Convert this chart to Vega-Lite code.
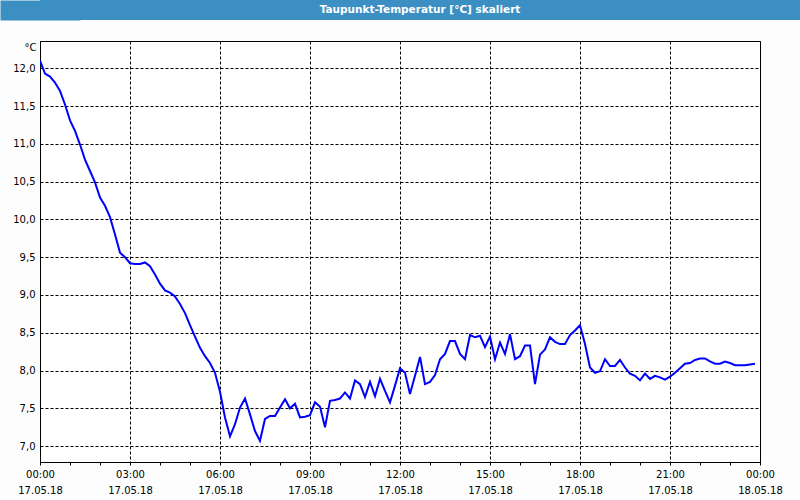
{
  "$schema": "https://vega.github.io/schema/vega-lite/v6.json",
  "padding": 0,
  "background": "#fcfdfc",
  "columns": 1,
  "align": "none",
  "bounds": "full",
  "spacing": 20,
  "config": {
    "font": "DejaVu Sans",
    "axis": {"labelFont": "DejaVu Sans", "labelFontSize": 10, "labelColor": "#000000", "titleFont": "DejaVu Sans", "titleColor": "#000000"}
  },
  "concat": [
    {
      "width": 760,
      "height": 20,
      "view": {"fill": "#3c8fc3", "stroke": null},
      "data": {"values": [{"title": "Taupunkt-Temperatur [°C] skaliert"}]},
      "mark": {"type": "text", "font": "DejaVu Sans", "fontSize": 10.5, "fontWeight": "bold", "color": "#ffffff", "baseline": "middle"},
      "encoding": {
        "text": {"field": "title", "type": "nominal"},
        "y": {"datum": 0, "type": "quantitative", "scale": {"domain": [-1, 1], "nice": false, "zero": false}, "axis": {"title": "C", "titleColor": "#3c8fc3", "titleAngle": 0, "titleAlign": "left", "titleBaseline": "middle", "titleX": -40, "titleY": 10, "titleFontSize": 10, "labels": false, "ticks": false, "grid": false, "domain": true, "domainColor": "#3c8fc3", "domainWidth": 80, "domainCap": "butt"}}
      }
    },
    {
      "width": 720,
      "height": 421,
      "view": {"fill": "#ffffff", "stroke": "#000000", "strokeWidth": 1},
      "data": {"values": [
        {"t":"2018-05-17T00:00:00Z","v":12.10},{"t":"2018-05-17T00:10:00Z","v":11.93},{"t":"2018-05-17T00:20:00Z","v":11.89},{"t":"2018-05-17T00:30:00Z","v":11.81},{"t":"2018-05-17T00:40:00Z","v":11.70},{"t":"2018-05-17T00:50:00Z","v":11.52},
        {"t":"2018-05-17T01:00:00Z","v":11.31},{"t":"2018-05-17T01:10:00Z","v":11.17},{"t":"2018-05-17T01:20:00Z","v":10.99},{"t":"2018-05-17T01:30:00Z","v":10.79},{"t":"2018-05-17T01:40:00Z","v":10.64},{"t":"2018-05-17T01:50:00Z","v":10.49},
        {"t":"2018-05-17T02:00:00Z","v":10.29},{"t":"2018-05-17T02:10:00Z","v":10.18},{"t":"2018-05-17T02:20:00Z","v":10.03},{"t":"2018-05-17T02:30:00Z","v":9.80},{"t":"2018-05-17T02:40:00Z","v":9.56},{"t":"2018-05-17T02:50:00Z","v":9.50},
        {"t":"2018-05-17T03:00:00Z","v":9.42},{"t":"2018-05-17T03:10:00Z","v":9.41},{"t":"2018-05-17T03:20:00Z","v":9.41},{"t":"2018-05-17T03:30:00Z","v":9.43},{"t":"2018-05-17T03:40:00Z","v":9.38},{"t":"2018-05-17T03:50:00Z","v":9.27},
        {"t":"2018-05-17T04:00:00Z","v":9.15},{"t":"2018-05-17T04:10:00Z","v":9.06},{"t":"2018-05-17T04:20:00Z","v":9.03},{"t":"2018-05-17T04:30:00Z","v":8.98},{"t":"2018-05-17T04:40:00Z","v":8.88},{"t":"2018-05-17T04:50:00Z","v":8.76},
        {"t":"2018-05-17T05:00:00Z","v":8.60},{"t":"2018-05-17T05:10:00Z","v":8.45},{"t":"2018-05-17T05:20:00Z","v":8.30},{"t":"2018-05-17T05:30:00Z","v":8.19},{"t":"2018-05-17T05:40:00Z","v":8.10},{"t":"2018-05-17T05:50:00Z","v":7.97},
        {"t":"2018-05-17T06:00:00Z","v":7.72},{"t":"2018-05-17T06:10:00Z","v":7.38},{"t":"2018-05-17T06:20:00Z","v":7.13},{"t":"2018-05-17T06:30:00Z","v":7.29},{"t":"2018-05-17T06:40:00Z","v":7.51},{"t":"2018-05-17T06:50:00Z","v":7.63},
        {"t":"2018-05-17T07:00:00Z","v":7.42},{"t":"2018-05-17T07:10:00Z","v":7.20},{"t":"2018-05-17T07:20:00Z","v":7.07},{"t":"2018-05-17T07:30:00Z","v":7.36},{"t":"2018-05-17T07:40:00Z","v":7.40},{"t":"2018-05-17T07:50:00Z","v":7.40},
        {"t":"2018-05-17T08:00:00Z","v":7.51},{"t":"2018-05-17T08:10:00Z","v":7.62},{"t":"2018-05-17T08:20:00Z","v":7.50},{"t":"2018-05-17T08:30:00Z","v":7.56},{"t":"2018-05-17T08:40:00Z","v":7.38},{"t":"2018-05-17T08:50:00Z","v":7.39},
        {"t":"2018-05-17T09:00:00Z","v":7.41},{"t":"2018-05-17T09:10:00Z","v":7.58},{"t":"2018-05-17T09:20:00Z","v":7.52},{"t":"2018-05-17T09:30:00Z","v":7.25},{"t":"2018-05-17T09:40:00Z","v":7.60},{"t":"2018-05-17T09:50:00Z","v":7.61},
        {"t":"2018-05-17T10:00:00Z","v":7.63},{"t":"2018-05-17T10:10:00Z","v":7.71},{"t":"2018-05-17T10:20:00Z","v":7.63},{"t":"2018-05-17T10:30:00Z","v":7.87},{"t":"2018-05-17T10:40:00Z","v":7.82},{"t":"2018-05-17T10:50:00Z","v":7.65},
        {"t":"2018-05-17T11:00:00Z","v":7.85},{"t":"2018-05-17T11:10:00Z","v":7.66},{"t":"2018-05-17T11:20:00Z","v":7.89},{"t":"2018-05-17T11:30:00Z","v":7.73},{"t":"2018-05-17T11:40:00Z","v":7.58},{"t":"2018-05-17T11:50:00Z","v":7.80},
        {"t":"2018-05-17T12:00:00Z","v":8.03},{"t":"2018-05-17T12:10:00Z","v":7.97},{"t":"2018-05-17T12:20:00Z","v":7.69},{"t":"2018-05-17T12:30:00Z","v":7.93},{"t":"2018-05-17T12:40:00Z","v":8.18},{"t":"2018-05-17T12:50:00Z","v":7.82},
        {"t":"2018-05-17T13:00:00Z","v":7.85},{"t":"2018-05-17T13:10:00Z","v":7.94},{"t":"2018-05-17T13:20:00Z","v":8.15},{"t":"2018-05-17T13:30:00Z","v":8.22},{"t":"2018-05-17T13:40:00Z","v":8.39},{"t":"2018-05-17T13:50:00Z","v":8.39},
        {"t":"2018-05-17T14:00:00Z","v":8.22},{"t":"2018-05-17T14:10:00Z","v":8.15},{"t":"2018-05-17T14:20:00Z","v":8.47},{"t":"2018-05-17T14:30:00Z","v":8.44},{"t":"2018-05-17T14:40:00Z","v":8.46},{"t":"2018-05-17T14:50:00Z","v":8.31},
        {"t":"2018-05-17T15:00:00Z","v":8.45},{"t":"2018-05-17T15:10:00Z","v":8.15},{"t":"2018-05-17T15:20:00Z","v":8.37},{"t":"2018-05-17T15:30:00Z","v":8.22},{"t":"2018-05-17T15:40:00Z","v":8.48},{"t":"2018-05-17T15:50:00Z","v":8.15},
        {"t":"2018-05-17T16:00:00Z","v":8.19},{"t":"2018-05-17T16:10:00Z","v":8.33},{"t":"2018-05-17T16:20:00Z","v":8.33},{"t":"2018-05-17T16:30:00Z","v":7.82},{"t":"2018-05-17T16:40:00Z","v":8.21},{"t":"2018-05-17T16:50:00Z","v":8.28},
        {"t":"2018-05-17T17:00:00Z","v":8.44},{"t":"2018-05-17T17:10:00Z","v":8.38},{"t":"2018-05-17T17:20:00Z","v":8.35},{"t":"2018-05-17T17:30:00Z","v":8.35},{"t":"2018-05-17T17:40:00Z","v":8.47},{"t":"2018-05-17T17:50:00Z","v":8.53},
        {"t":"2018-05-17T18:00:00Z","v":8.60},{"t":"2018-05-17T18:10:00Z","v":8.35},{"t":"2018-05-17T18:20:00Z","v":8.04},{"t":"2018-05-17T18:30:00Z","v":7.97},{"t":"2018-05-17T18:40:00Z","v":7.99},{"t":"2018-05-17T18:50:00Z","v":8.15},
        {"t":"2018-05-17T19:00:00Z","v":8.06},{"t":"2018-05-17T19:10:00Z","v":8.06},{"t":"2018-05-17T19:20:00Z","v":8.14},{"t":"2018-05-17T19:30:00Z","v":8.04},{"t":"2018-05-17T19:40:00Z","v":7.96},{"t":"2018-05-17T19:50:00Z","v":7.93},
        {"t":"2018-05-17T20:00:00Z","v":7.87},{"t":"2018-05-17T20:10:00Z","v":7.96},{"t":"2018-05-17T20:20:00Z","v":7.89},{"t":"2018-05-17T20:30:00Z","v":7.93},{"t":"2018-05-17T20:40:00Z","v":7.91},{"t":"2018-05-17T20:50:00Z","v":7.88},
        {"t":"2018-05-17T21:00:00Z","v":7.92},{"t":"2018-05-17T21:10:00Z","v":7.97},{"t":"2018-05-17T21:20:00Z","v":8.03},{"t":"2018-05-17T21:30:00Z","v":8.09},{"t":"2018-05-17T21:40:00Z","v":8.10},{"t":"2018-05-17T21:50:00Z","v":8.14},
        {"t":"2018-05-17T22:00:00Z","v":8.16},{"t":"2018-05-17T22:10:00Z","v":8.16},{"t":"2018-05-17T22:20:00Z","v":8.12},{"t":"2018-05-17T22:30:00Z","v":8.09},{"t":"2018-05-17T22:40:00Z","v":8.09},{"t":"2018-05-17T22:50:00Z","v":8.12},
        {"t":"2018-05-17T23:00:00Z","v":8.10},{"t":"2018-05-17T23:10:00Z","v":8.07},{"t":"2018-05-17T23:20:00Z","v":8.07},{"t":"2018-05-17T23:30:00Z","v":8.07},{"t":"2018-05-17T23:40:00Z","v":8.08},{"t":"2018-05-17T23:50:00Z","v":8.09}
      ]},
      "mark": {"type": "line", "color": "#0000ff", "strokeWidth": 2, "clip": true},
      "encoding": {
        "x": {
          "field": "t",
          "type": "temporal",
          "scale": {"type": "utc", "domain": [1526515200000, 1526601600000], "nice": false},
          "axis": {
            "title": null,
            "domain": false,
            "values": [1526515200000, 1526518800000, 1526522400000, 1526526000000, 1526529600000, 1526533200000, 1526536800000, 1526540400000, 1526544000000, 1526547600000, 1526551200000, 1526554800000, 1526558400000, 1526562000000, 1526565600000, 1526569200000, 1526572800000, 1526576400000, 1526580000000, 1526583600000, 1526587200000, 1526590800000, 1526594400000, 1526598000000, 1526601600000],
            "ticks": true,
            "tickSize": 3,
            "tickColor": "#000000",
            "tickWidth": 1,
            "labelExpr": "utchours(datum.value) % 3 == 0 ? [utcFormat(datum.value, '%H:%M'), utcFormat(datum.value, '%d.%m.%y')] : ''",
            "labelFlush": false,
            "labelOverlap": false,
            "labelPadding": 4,
            "labelLineHeight": 16,
            "labelBaseline": "top",
            "grid": true,
            "gridColor": "#000000",
            "gridDash": [3, 2],
            "gridWidth": 1,
            "gridOpacity": {"condition": {"test": "utchours(datum.value) % 3 == 0", "value": 1}, "value": 0}
          }
        },
        "y": {
          "field": "v",
          "type": "quantitative",
          "scale": {"domain": [6.79, 12.36], "nice": false, "zero": false},
          "axis": {
            "values": [7, 7.5, 8, 8.5, 9, 9.5, 10, 10.5, 11, 11.5, 12],
            "labelExpr": "replace(format(datum.value, '.1f'), '.', ',')",
            "domain": false,
            "ticks": false,
            "labelPadding": 5,
            "grid": true,
            "gridColor": "#000000",
            "gridDash": [3, 2],
            "gridWidth": 1,
            "title": "°C",
            "titleAngle": 0,
            "titleAlign": "right",
            "titleBaseline": "middle",
            "titleX": -4,
            "titleY": 6,
            "titleFontSize": 10,
            "titleFontWeight": "normal"
          }
        }
      }
    }
  ]
}
